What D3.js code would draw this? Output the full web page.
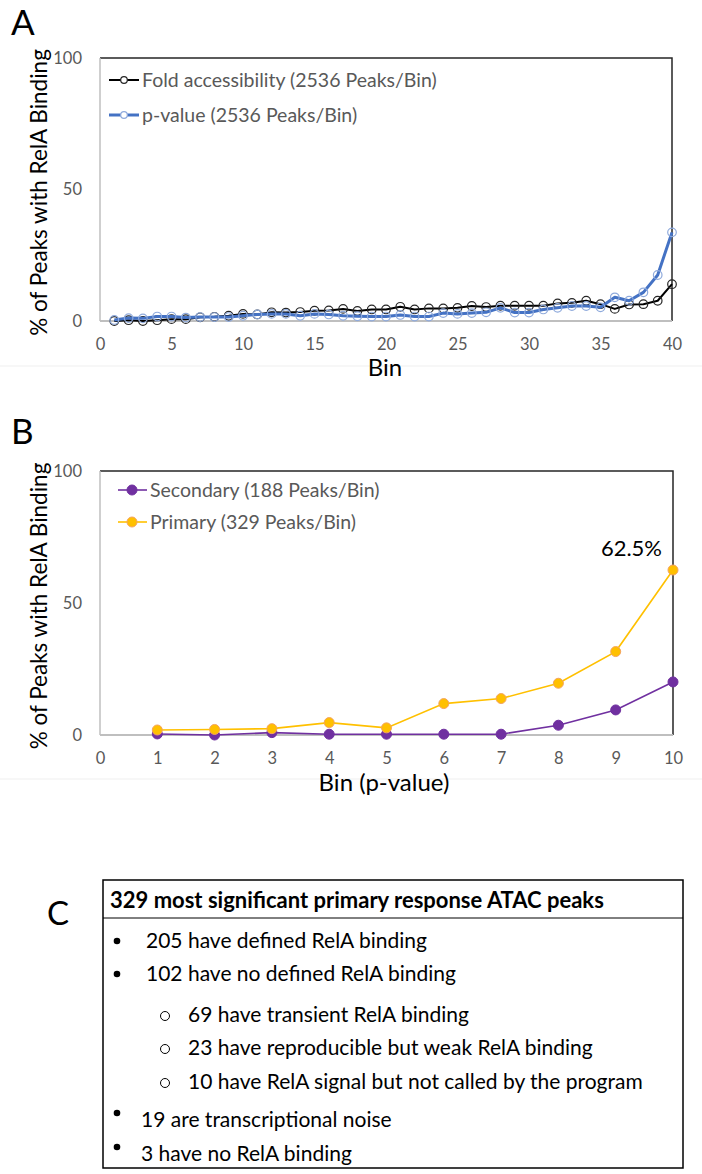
<!DOCTYPE html>
<html><head><meta charset="utf-8">
<script src="https://cdn.jsdelivr.net/npm/d3@7"></script>
<style>
body{margin:0;background:#fff;}
svg{display:block;font-family:Lato,"Open Sans",sans-serif;}
</style></head>
<body><svg id="c" width="702" height="1174"></svg>
<script>
// ---- Data ----
const binsA = d3.range(1, 41);
const foldAccessibility = [0,0.3,0,0.3,0.7,0.7,1.4,1.6,2,2.7,2.5,3.3,3.2,3.4,3.9,4.0,4.6,3.8,4.4,4.4,5.4,4.4,4.8,4.8,5.0,5.7,5.3,5.8,5.8,5.8,5.8,6.7,6.9,7.7,6.4,4.6,6.3,6.4,7.7,14.0];
const pValueA = [0.4,1.1,1.0,1.7,1.7,1.3,1.5,1.5,1.5,2.0,2.5,2.7,2.7,2.0,2.7,2.5,2.0,1.8,1.7,1.7,2.3,1.7,1.7,3.0,2.7,3.0,3.3,5.0,3.2,3.2,4.4,5.0,5.7,5.7,5.2,9.0,7.7,10.9,17.5,33.7];
const seriesA = ["Fold accessibility (2536 Peaks/Bin)", "p-value (2536 Peaks/Bin)"];
const xTicksA = [0,5,10,15,20,25,30,35,40];
const yTicks = [0,50,100];

const binsB = d3.range(1, 11);
const secondary = [0.4,0,0.9,0.3,0.3,0.3,0.3,3.7,9.5,20.1];
const primary = [1.9,2.1,2.4,4.7,2.7,11.9,13.8,19.6,31.6,62.5];
const seriesB = ["Secondary (188 Peaks/Bin)", "Primary (329 Peaks/Bin)"];
const xTicksB = [0,1,2,3,4,5,6,7,8,9,10];
const annotationB = "62.5%";

const boxTitle = "329 most significant primary response ATAC peaks";
const boxItems = [
  {level:1, text:"205 have defined RelA binding"},
  {level:1, text:"102 have no defined RelA binding"},
  {level:2, text:"69 have transient RelA binding"},
  {level:2, text:"23 have reproducible but weak RelA binding"},
  {level:2, text:"10 have RelA signal but not called by the program"},
  {level:3, text:"19 are transcriptional noise"},
  {level:3, text:"3 have no RelA binding"}
];

const svg = d3.select("#c");
const tickColor = "#595959";

function panel(opt){
  const g = svg.append("g");
  const x = d3.scaleLinear().domain(opt.xDomain).range([opt.left, opt.right]);
  const y = d3.scaleLinear().domain([0,100]).range([opt.bottom, opt.top]);
  g.append("line").attr("x1",0).attr("x2",702).attr("y1",opt.sepY).attr("y2",opt.sepY)
    .attr("stroke","#efefef").attr("stroke-width",1);
  g.append("path").attr("d",`M${opt.left},${opt.top}H${opt.right}V${opt.bottom}`)
    .attr("fill","none").attr("stroke","#262626").attr("stroke-width",1.5);
  const ax = g.append("g").attr("transform",`translate(0,${opt.bottom+17})`)
    .call(d3.axisBottom(x).tickValues(opt.xTicks).tickSize(0).tickPadding(0));
  ax.select(".domain").remove();
  ax.selectAll("text").attr("fill",tickColor).attr("font-size",16.5).attr("font-family","Lato");
  const ay = g.append("g").attr("transform",`translate(${opt.left-18},0)`)
    .call(d3.axisLeft(y).tickValues(yTicks).tickSize(0).tickPadding(0));
  ay.select(".domain").remove();
  ay.selectAll("text").attr("fill",tickColor).attr("font-size",16.5).attr("font-family","Lato");
  g.append("line").attr("x1",opt.left).attr("x2",opt.left).attr("y1",opt.top).attr("y2",opt.bottom)
    .attr("stroke","#bfbfbf").attr("stroke-width",1.5);
  g.append("line").attr("x1",opt.left).attr("x2",opt.right).attr("y1",opt.bottom).attr("y2",opt.bottom)
    .attr("stroke","#bfbfbf").attr("stroke-width",2);
  g.append("text").attr("x",opt.xLabelX).attr("y",opt.bottom+opt.xLabelDy)
    .attr("text-anchor","middle").attr("font-size",24).attr("fill","#000").text(opt.xLabel);
  g.append("text").attr("transform",`translate(47,${(opt.top+opt.bottom)/2+3}) rotate(-90)`)
    .attr("text-anchor","middle").attr("font-size",22.5).attr("fill","#000").text("% of Peaks with RelA Binding");
  g.append("text").attr("x",11).attr("y",opt.letterY).attr("font-size",35).attr("fill","#000").text(opt.panel);
  return {g,x,y};
}

// ---- Panel A ----
const A = panel({xDomain:[0,40], left:100, right:672, top:58, bottom:321, xTicks:xTicksA,
  xLabel:"Bin", xLabelX:385, xLabelDy:55, panel:"A", letterY:35, sepY:366});
const lineA = d3.line().x((d,i)=>A.x(binsA[i])).y(d=>A.y(d));
const styleA = [
  {data:foldAccessibility, line:"#000000", lw:2, mk:"#262626"},
  {data:pValueA, line:"#4472C4", lw:3, mk:"#8FAADC"}
];
styleA.forEach(s=>{
  A.g.append("path").attr("d",lineA(s.data)).attr("fill","none").attr("stroke",s.line).attr("stroke-width",s.lw).attr("stroke-linejoin","round");
  A.g.selectAll(null).data(s.data).enter().append("circle")
    .attr("cx",(d,i)=>A.x(binsA[i])).attr("cy",d=>A.y(d)).attr("r",4.3)
    .attr("fill","none").attr("stroke",s.mk).attr("stroke-width",1.2);
});
seriesA.forEach((name,i)=>{
  const yy = 80 + i*35, s = styleA[i];
  A.g.append("line").attr("x1",109).attr("x2",139).attr("y1",yy).attr("y2",yy).attr("stroke",s.line).attr("stroke-width",s.lw);
  A.g.append("circle").attr("cx",124).attr("cy",yy).attr("r",3.3).attr("fill","#fff").attr("stroke",s.mk).attr("stroke-width",1.2);
  A.g.append("text").attr("x",142).attr("y",yy+7).attr("font-size",19.5).attr("fill","#595959").text(name);
});

// ---- Panel B ----
const B = panel({xDomain:[0,10], left:100, right:673, top:471, bottom:735, xTicks:xTicksB,
  xLabel:"Bin (p-value)", xLabelX:384, xLabelDy:56, panel:"B", letterY:444, sepY:779});
const lineB = d3.line().x((d,i)=>B.x(binsB[i])).y(d=>B.y(d));
const styleB = [
  {data:secondary, line:"#7030A0", fill:"#7030A0", stroke:"#7030A0"},
  {data:primary, line:"#FFC000", fill:"#FFC000", stroke:"#F4A460"}
];
styleB.forEach(s=>{
  B.g.append("path").attr("d",lineB(s.data)).attr("fill","none").attr("stroke",s.line).attr("stroke-width",1.6);
});
styleB.forEach(s=>{
  B.g.selectAll(null).data(s.data).enter().append("circle")
    .attr("cx",(d,i)=>B.x(binsB[i])).attr("cy",d=>B.y(d)).attr("r",5)
    .attr("fill",s.fill).attr("stroke",s.stroke).attr("stroke-width",1);
});
seriesB.forEach((name,i)=>{
  const yy = 490 + i*32, s = styleB[i];
  B.g.append("line").attr("x1",118).attr("x2",147).attr("y1",yy).attr("y2",yy).attr("stroke",s.line).attr("stroke-width",1.6);
  B.g.append("circle").attr("cx",132).attr("cy",yy).attr("r",5).attr("fill",s.fill).attr("stroke",s.stroke).attr("stroke-width",1);
  B.g.append("text").attr("x",150).attr("y",yy+7).attr("font-size",19.5).attr("fill","#595959").text(name);
});
B.g.append("text").attr("x",B.x(10)-11).attr("y",B.y(primary[9])-14).attr("text-anchor","end")
  .attr("font-size",22).attr("fill","#000").text(annotationB);

// ---- Panel C ----
const C = svg.append("g");
C.append("text").attr("x",47).attr("y",925).attr("font-size",33).attr("fill","#000").text("C");
C.append("rect").attr("x",103).attr("y",880).attr("width",580).attr("height",288)
  .attr("fill","none").attr("stroke","#000").attr("stroke-width",1.5);
C.append("line").attr("x1",103).attr("x2",683).attr("y1",918).attr("y2",918).attr("stroke","#000").attr("stroke-width",1);
C.append("text").attr("x",110).attr("y",908).attr("font-size",22).attr("font-weight","bold").attr("fill","#000").text(boxTitle);
const rowY = [948,981,1022,1055,1089,1127,1161];
boxItems.forEach((it,i)=>{
  const yy = rowY[i];
  if(it.level===2){
    C.append("circle").attr("cx",165).attr("cy",yy-6).attr("r",4.5).attr("fill","none").attr("stroke","#000").attr("stroke-width",1);
    C.append("text").attr("x",188).attr("y",yy).attr("font-size",21).attr("fill","#000").text(it.text);
  } else {
    const by = it.level===1 ? yy-7 : yy-14;
    C.append("circle").attr("cx",117).attr("cy",by).attr("r",3.3).attr("fill","#000");
    C.append("text").attr("x",it.level===1?146:141).attr("y",yy).attr("font-size",21).attr("fill","#000").text(it.text);
  }
});
</script></body></html>
